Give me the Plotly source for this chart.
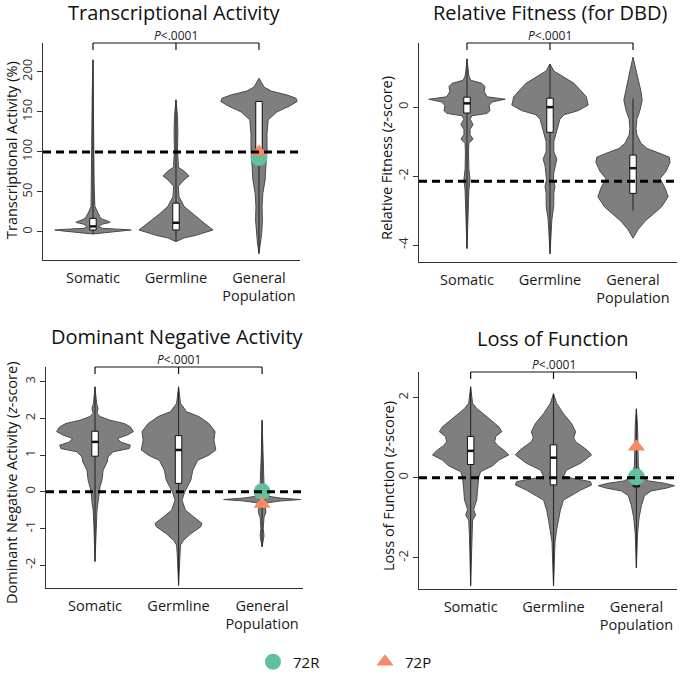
import plotly.graph_objects as go

# ---------------- data ----------------
categories = ["Somatic", "Germline", "General<br>Population"]
panel_titles = ["Transcriptional Activity", "Relative Fitness (for DBD)",
                "Dominant Negative Activity", "Loss of Function"]
y_titles = ["Transcriptional Activity (%)", "Relative Fitness (<i>z</i>-score)",
            "Dominant Negative Activity (<i>z</i>-score)", "Loss of Function (<i>z</i>-score)"]
reference_values = [100, -2.15, 0, 0]
p_value_label = "<i>P</i><.0001"

y_tick_values = [[0, 50, 100, 150, 200], [0, -2, -4], [3, 2, 1, 0, -1, -2], [2, 0, -2]]
y_tick_labels = [["0", "50", "100", "150", "200"], ["0", "-2", "-4"],
                 ["3", "2", "1", "0", "-1", "-2"], ["2", "0", "-2"]]

# density profiles (value, relative density; 1 = widest)
ta_somatic_y = [-2.5, -1, 1, 2.5, 3.5, 4.5, 6, 8, 10, 12, 14, 16, 19, 25, 32, 60, 115, 170, 215]
ta_somatic_d = [0, 0.32, 0.74, 1.0, 0.66, 0.26, 0.16, 0.18, 0.26, 0.45, 0.37, 0.24, 0.18, 0.11, 0.05, 0.03, 0.026, 0.02, 0]
ta_germline_y = [-12, -7.5, -4, 2.5, 11, 23, 32, 44, 57, 65, 70, 75, 81, 86, 102, 124, 144, 165]
ta_germline_d = [0, 0.21, 0.53, 0.97, 0.74, 0.42, 0.21, 0.08, 0.06, 0.21, 0.34, 0.24, 0.06, 0.06, 0.04, 0.05, 0.04, 0]
ta_general_y = [-27, -14, -2, 15, 32, 48, 65, 82, 102, 123, 140, 150, 157, 163, 167, 171, 176, 181, 192]
ta_general_d = [0, 0.04, 0.07, 0.09, 0.08, 0.1, 0.16, 0.18, 0.21, 0.21, 0.24, 0.47, 0.79, 1.0, 0.97, 0.74, 0.32, 0.13, 0]

rf_somatic_y = [-4.1, -3.0, -2.4, -2.1, -1.8, -1.3, -1.05, -0.92, -0.8, -0.65, -0.5, -0.35, -0.25, -0.18,
                -0.1, 0.05, 0.15, 0.23, 0.3, 0.45, 0.6, 0.69, 0.78, 0.9, 1.05, 1.4]
rf_somatic_d = [0, 0.03, 0.05, 0.08, 0.05, 0.04, 0.05, 0.16, 0.08, 0.08, 0.16, 0.08, 0.13, 0.53,
                0.6, 0.58, 0.66, 1.0, 0.53, 0.45, 0.47, 0.39, 0.1, 0.05, 0.03, 0]
rf_germline_y = [-4.25, -3.6, -3.25, -2.85, -2.5, -2.3, -2.1, -1.9, -1.7, -1.5, -1.3, -1.0, -0.75, -0.55,
                 -0.35, -0.22, -0.1, 0.06, 0.2, 0.3, 0.5, 0.69, 0.9, 1.05, 1.25]
rf_germline_d = [0, 0.03, 0.05, 0.1, 0.1, 0.13, 0.09, 0.1, 0.13, 0.18, 0.1, 0.1, 0.16, 0.21,
                 0.26, 0.37, 0.74, 1.0, 0.97, 0.95, 0.79, 0.63, 0.32, 0.1, 0]
rf_general_y = [-3.8, -3.55, -3.3, -2.9, -2.6, -2.35, -2.07, -1.85, -1.6, -1.45, -1.33, -1.2, -1.05, -0.8,
                -0.62, -0.35, -0.1, 0.2, 0.45, 0.8, 1.1, 1.45]
rf_general_d = [0, 0.13, 0.32, 0.74, 0.92, 0.84, 0.71, 0.87, 0.97, 0.95, 0.68, 0.37, 0.21, 0.1,
                0.08, 0.1, 0.18, 0.24, 0.21, 0.13, 0.07, 0]

dn_somatic_y = [-1.9, -0.9, -0.5, -0.27, 0.0, 0.14, 0.32, 0.59, 0.82, 0.95, 1.09, 1.18, 1.27, 1.35, 1.45,
                1.55, 1.64, 1.77, 1.86, 1.95, 2.05, 2.14, 2.27, 2.41, 2.86]
dn_somatic_d = [0, 0.03, 0.05, 0.08, 0.1, 0.13, 0.18, 0.21, 0.32, 0.34, 0.47, 0.89, 0.92, 0.68, 0.58,
                0.84, 1.0, 0.92, 0.76, 0.39, 0.13, 0.05, 0.08, 0.04, 0]
dn_germline_y = [-2.55, -1.77, -1.45, -1.32, -1.14, -0.95, -0.86, -0.68, -0.5, -0.23, 0.0, 0.32, 0.59,
                 0.86, 1.0, 1.14, 1.41, 1.64, 1.86, 2.05, 2.18, 2.41, 2.86]
dn_germline_d = [0, 0.03, 0.05, 0.13, 0.32, 0.58, 0.61, 0.39, 0.18, 0.09, 0.16, 0.32, 0.37,
                 0.5, 0.79, 0.97, 0.92, 0.95, 0.79, 0.53, 0.21, 0.05, 0]
dn_general_y = [-1.5, -1.2, -1.0, -0.7, -0.55, -0.4, -0.3, -0.25, -0.21, -0.17, -0.12, 0.0, 0.2, 0.5, 1.0, 1.95]
dn_general_d = [0, 0.05, 0.03, 0.05, 0.1, 0.08, 0.13, 0.47, 1.0, 0.47, 0.16, 0.08, 0.05, 0.04, 0.02, 0]

lof_somatic_y = [-2.7, -1.48, -1.06, -0.93, -0.8, -0.73, -0.56, -0.31, 0.0, 0.15, 0.3, 0.44, 0.57, 0.69,
                 0.8, 0.9, 1.03, 1.15, 1.27, 1.44, 1.6, 1.73, 1.86, 2.27]
lof_somatic_d = [0, 0.03, 0.05, 0.13, 0.08, 0.1, 0.16, 0.18, 0.21, 0.26, 0.58, 0.74, 1.0, 0.87,
                 0.71, 0.63, 0.66, 0.82, 0.74, 0.53, 0.32, 0.16, 0.05, 0]
lof_germline_y = [-2.7, -1.6, -1.31, -1.06, -0.81, -0.56, -0.31, -0.18, -0.1, 0.03, 0.19, 0.36, 0.57,
                  0.7, 0.9, 1.0, 1.15, 1.36, 1.6, 1.86, 2.1]
lof_germline_d = [0, 0.04, 0.08, 0.13, 0.18, 0.26, 0.71, 1.0, 0.97, 0.26, 0.34, 0.71, 1.0,
                  0.87, 0.58, 0.53, 0.58, 0.47, 0.26, 0.08, 0]
lof_general_y = [-2.25, -1.4, -1.0, -0.7, -0.45, -0.33, -0.26, -0.2, -0.14, -0.08, 0.0, 0.1, 0.3, 0.8, 1.3, 1.72]
lof_general_d = [0, 0.03, 0.07, 0.13, 0.21, 0.39, 0.79, 1.0, 0.74, 0.32, 0.16, 0.1, 0.05, 0.04, 0.03, 0]

# box summaries per panel (Somatic, Germline, General Population)
ta_q1, ta_median, ta_q3 = [2.5, 2.5, 90], [7, 11.5, 100], [17, 36, 163]
ta_whisker_lo, ta_whisker_hi = [-2.5, -12, -27], [215, 165, 163]
rf_q1, rf_median, rf_q3 = [-0.17, -0.73, -2.5], [0.11, 0.0, -1.77], [0.29, 0.26, -1.39]
rf_whisker_lo, rf_whisker_hi = [-4.1, -4.25, -3.0], [1.4, 1.25, 0.25]
dn_q1, dn_median, dn_q3 = [0.97, 0.23, -0.23], [1.36, 1.14, -0.2], [1.65, 1.53, -0.17]
dn_whisker_lo, dn_whisker_hi = [-1.9, -2.55, -1.5], [2.86, 2.86, 1.95]
lof_q1, lof_median, lof_q3 = [0.33, -0.18, -0.23], [0.67, 0.5, -0.2], [1.03, 0.82, -0.17]
lof_whisker_lo, lof_whisker_hi = [-2.7, -2.7, -2.25], [2.27, 2.1, 1.72]

# highlighted variants (General Population column), per panel
variant_names = ["72R", "72P"]
r72_values = [93, None, 0.0, 0.02]
p72_values = [100, None, -0.33, 0.77]

# ---------------- styling / layout ----------------
W, H = 680, 674
FONT = "Open Sans"
VIOLIN_FILL = "#7f7f7f"
VIOLIN_LINE = "#4a4a4a"
AXIS_COLOR = "#333333"
R_COLOR = "#62c0a0"
P_COLOR = "#f78a64"
HALF = 0.46
BOX_HALF = 0.039

panels = [
    dict(profiles=[(ta_somatic_y, ta_somatic_d), (ta_germline_y, ta_germline_d), (ta_general_y, ta_general_d)],
         q1=ta_q1, med=ta_median, q3=ta_q3, lo=ta_whisker_lo, hi=ta_whisker_hi,
         px=(43, 300, 43, 260), xr=[-0.602, 2.494], yr=[-35, 236],
         title_xy=(175, 12.5), ytitle_xy=(11, 150)),
    dict(profiles=[(rf_somatic_y, rf_somatic_d), (rf_germline_y, rf_germline_d), (rf_general_y, rf_general_d)],
         q1=rf_q1, med=rf_median, q3=rf_q3, lo=rf_whisker_lo, hi=rf_whisker_hi,
         px=(419, 677, 43, 262), xr=[-0.578, 2.53], yr=[-4.49, 1.86],
         title_xy=(550, 12.5), ytitle_xy=(386, 158)),
    dict(profiles=[(dn_somatic_y, dn_somatic_d), (dn_germline_y, dn_germline_d), (dn_general_y, dn_general_d)],
         q1=dn_q1, med=dn_median, q3=dn_q3, lo=dn_whisker_lo, hi=dn_whisker_hi,
         px=(46, 303, 367, 588), xr=[-0.587, 2.49], yr=[-2.62, 3.40],
         title_xy=(177, 336.5), ytitle_xy=(11, 483)),
    dict(profiles=[(lof_somatic_y, lof_somatic_d), (lof_germline_y, lof_germline_d), (lof_general_y, lof_general_d)],
         q1=lof_q1, med=lof_median, q3=lof_q3, lo=lof_whisker_lo, hi=lof_whisker_hi,
         px=(419, 677, 372, 589), xr=[-0.623, 2.49], yr=[-2.78, 2.64],
         title_xy=(553, 338.5), ytitle_xy=(388, 486)),
]

fig = go.Figure()
layout = dict(width=W, height=H, margin=dict(l=0, r=0, t=0, b=0, pad=0, autoexpand=False), autosize=False,
              paper_bgcolor="white", plot_bgcolor="white",
              font=dict(family=FONT, color="#111111"), showlegend=True)
annotations, shapes = [], []

for i, p in enumerate(panels):
    xa = "x" if i == 0 else f"x{i + 1}"
    ya = "y" if i == 0 else f"y{i + 1}"
    xkey = "xaxis" if i == 0 else f"xaxis{i + 1}"
    ykey = "yaxis" if i == 0 else f"yaxis{i + 1}"
    x0, x1, yt, yb = p["px"]
    layout[xkey] = dict(domain=[x0 / W, x1 / W], anchor=ya, range=p["xr"], fixedrange=True,
                        showline=True, linecolor=AXIS_COLOR, linewidth=1.3, ticks="",
                        tickvals=[0, 1, 2], ticktext=categories, showgrid=False, zeroline=False,
                        ticklabelstandoff=4, automargin=False,
                        tickfont=dict(size=14.5, color="#1a1a1a", family=FONT))
    layout[ykey] = dict(domain=[1 - yb / H, 1 - yt / H], anchor=xa, range=p["yr"], fixedrange=True,
                        showline=True, linecolor=AXIS_COLOR, linewidth=1.3, ticks="outside",
                        ticklen=5, tickcolor=AXIS_COLOR, tickwidth=1.2, automargin=False,
                        tickvals=y_tick_values[i], ticktext=y_tick_labels[i], tickangle=-90,
                        showgrid=False, zeroline=False,
                        tickfont=dict(size=13, color="#333333", family=FONT))

    for g, (ys, ds) in enumerate(p["profiles"]):
        vx = [g + HALF * d for d in ds] + [g - HALF * d for d in reversed(ds)]
        vy = list(ys) + list(reversed(ys))
        fig.add_trace(go.Scatter(x=vx + [vx[0]], y=vy + [vy[0]], xaxis=xa, yaxis=ya, mode="lines",
                                 fill="toself", fillcolor=VIOLIN_FILL,
                                 line=dict(color=VIOLIN_LINE, width=1), showlegend=False,
                                 hoverinfo="skip"))
        fig.add_trace(go.Scatter(x=[g, g], y=[p["lo"][g], p["hi"][g]], xaxis=xa, yaxis=ya, mode="lines",
                                 line=dict(color="#2a2a2a", width=1.1), showlegend=False, hoverinfo="skip"))
        fig.add_trace(go.Scatter(x=[g - BOX_HALF, g + BOX_HALF, g + BOX_HALF, g - BOX_HALF, g - BOX_HALF],
                                 y=[p["q1"][g], p["q1"][g], p["q3"][g], p["q3"][g], p["q1"][g]],
                                 xaxis=xa, yaxis=ya, mode="lines", fill="toself", fillcolor="white",
                                 line=dict(color="#111111", width=1), showlegend=False, hoverinfo="skip"))
        fig.add_trace(go.Scatter(x=[g - BOX_HALF, g + BOX_HALF], y=[p["med"][g], p["med"][g]],
                                 xaxis=xa, yaxis=ya, mode="lines", line=dict(color="#111111", width=2.5),
                                 showlegend=False, hoverinfo="skip"))

    # variants
    for name, vals, color, sym, sz in [(variant_names[0], r72_values, R_COLOR, "circle", 17),
                                        (variant_names[1], p72_values, P_COLOR, "triangle-up", 15)]:
        v = vals[i]
        show = i == 0
        fig.add_trace(go.Scatter(x=[2] if v is not None else [], y=[v] if v is not None else [],
                                 xaxis=xa, yaxis=ya, mode="markers", name=name, legendgroup=name,
                                 showlegend=show,
                                 marker=dict(color=color, symbol=sym, size=sz, line=dict(width=0)),
                                 cliponaxis=False))

    # reference dashed line
    shapes.append(dict(type="line", xref=f"{xa} domain", yref=ya, x0=0, x1=1,
                       y0=reference_values[i], y1=reference_values[i],
                       line=dict(color="black", width=3, dash="8px,5px"), layer="above"))
    # significance bracket
    tick = 7 / (yb - yt)
    shapes.append(dict(type="line", xref=xa, yref=f"{ya} domain", x0=0, x1=2, y0=1, y1=1,
                       line=dict(color="#111111", width=1.2)))
    for g in range(3):
        shapes.append(dict(type="line", xref=xa, yref=f"{ya} domain", x0=g, x1=g, y0=1, y1=1 - tick,
                           line=dict(color="#111111", width=1.2)))
    annotations.append(dict(text=p_value_label, xref=xa, yref=f"{ya} domain", x=1, y=1,
                            yanchor="bottom", yshift=-2, showarrow=False, borderpad=0,
                            font=dict(size=12, color="#222222", family=FONT)))
    # panel title
    tx, ty = p["title_xy"]
    annotations.append(dict(text=panel_titles[i], xref="paper", yref="paper", x=tx / W, y=1 - ty / H,
                            xanchor="center", yanchor="middle", showarrow=False, borderpad=0,
                            font=dict(size=20, color="#111111", family=FONT)))
    # y-axis title
    ax, ay = p["ytitle_xy"]
    annotations.append(dict(text=y_titles[i], xref="paper", yref="paper", x=ax / W, y=1 - ay / H,
                            xanchor="center", yanchor="middle", textangle=-90, showarrow=False,
                            font=dict(size=14.5, color="#111111", family=FONT)))

layout["annotations"] = annotations
layout["shapes"] = shapes
layout["legend"] = dict(orientation="h", x=253 / W, y=1 - 662 / H, xanchor="left", yanchor="middle",
                        entrywidth=67, entrywidthmode="pixels", itemwidth=30,
                        font=dict(size=15, color="#111111", family=FONT), bgcolor="rgba(0,0,0,0)")
fig.update_layout(**layout)
fig.write_html("out.html", config={"displayModeBar": False},
               post_script="document.documentElement.style.overflow='hidden';"
                           "document.body.style.margin='0px';document.body.style.overflow='hidden';")
